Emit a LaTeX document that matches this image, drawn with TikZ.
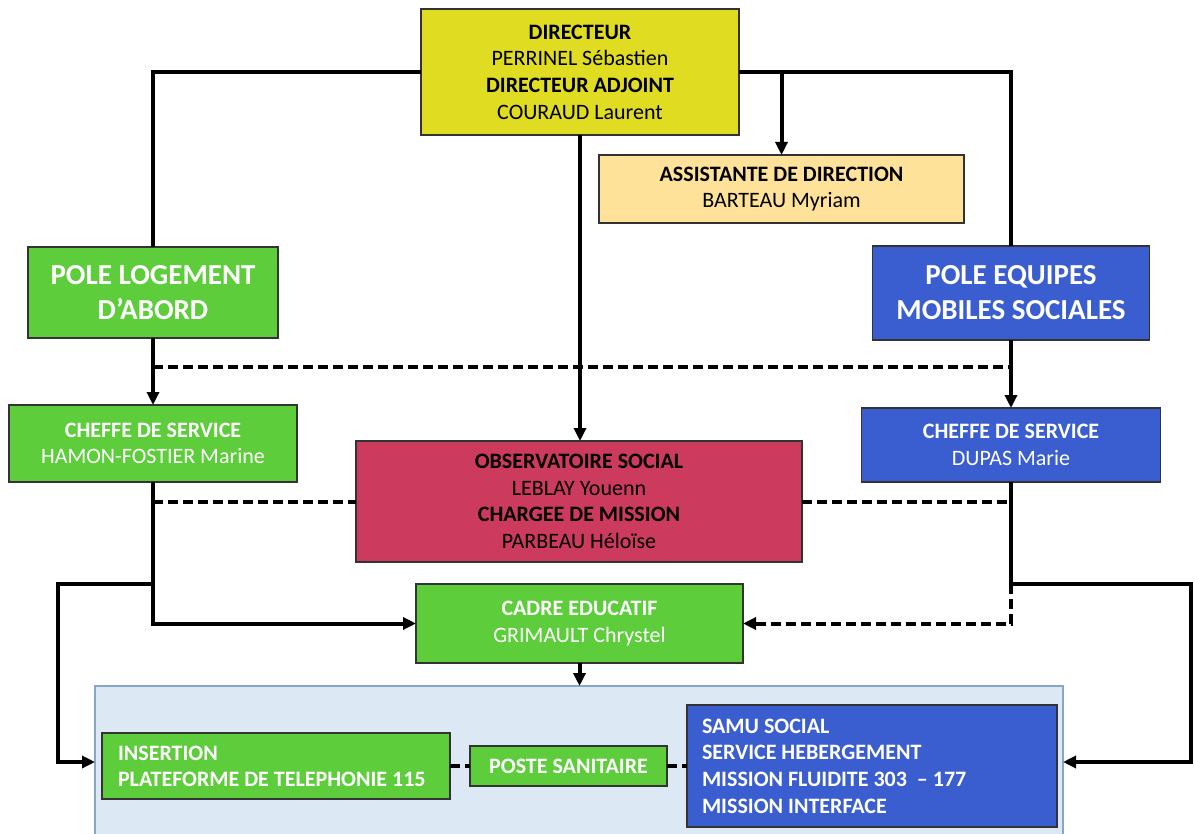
\documentclass[tikz,border=0pt]{standalone}
\usepackage{fontspec}
\setmainfont{Carlito}
\usetikzlibrary{arrows.meta,calc}
\definecolor{dirYellow}{HTML}{E0DC22}
\definecolor{asstCream}{HTML}{FFE29A}
\definecolor{poleGreen}{HTML}{5DCD3B}
\definecolor{poleBlue}{HTML}{3A5ECF}
\definecolor{obsRed}{HTML}{CC3A5D}
\definecolor{panelBlue}{HTML}{DDE8F5}
\definecolor{panelEdge}{HTML}{8AA6C6}

\begin{document}
\begin{tikzpicture}[x=0.5pt, y=-0.5pt,
    box/.style = {draw=black!80, line width=0.7pt, inner sep=0pt, outer sep=0pt,
                  align=center, font=\fontsize{11}{13.3}\selectfont},
    polebox/.style = {box, text=white, font=\fontsize{14.5}{17.5}\selectfont\bfseries},
    listbox/.style = {box, text=white, align=flush left, font=\fontsize{11}{13}\selectfont\bfseries},
    link/.style = {line width=2pt},
    dashlink/.style = {link, dash pattern=on 5pt off 2.5pt},
    tip/.style = {-{Stealth[inset=0pt,length=6.5pt,width=6pt]}}
  ]
  \useasboundingbox (0,0) rectangle (1194,834);

  % direction
  \node[box, fill=dirYellow, minimum width=159pt, minimum height=63pt] (dir) at (580,72)
    {\textbf{DIRECTEUR}\\PERRINEL Sébastien\\\textbf{DIRECTEUR ADJOINT}\\COURAUD Laurent};
  \node[box, fill=asstCream, minimum width=182.5pt, minimum height=34pt] (asst) at (781.5,189)
    {\textbf{ASSISTANTE DE DIRECTION}\\BARTEAU Myriam};

  % poles
  \node[polebox, fill=poleGreen, minimum width=125pt, minimum height=45.5pt] (pl) at (153,292.5)
    {POLE LOGEMENT\\D’ABORD};
  \node[polebox, fill=poleBlue, minimum width=138.5pt, minimum height=47pt] (pe) at (1011,293)
    {POLE EQUIPES\\MOBILES SOCIALES};
  \node[box, fill=poleGreen, text=white, minimum width=144pt, minimum height=38.5pt] (cl) at (153,443.5)
    {\textbf{CHEFFE DE SERVICE}\\HAMON-FOSTIER Marine};
  \node[box, fill=poleBlue, text=white, minimum width=149.5pt, minimum height=37pt] (cr) at (1011,445)
    {\textbf{CHEFFE DE SERVICE}\\DUPAS Marie};
  \node[box, fill=obsRed, minimum width=223pt, minimum height=60.5pt] (obs) at (579,501.5)
    {\textbf{OBSERVATOIRE SOCIAL}\\LEBLAY Youenn\\\textbf{CHARGEE DE MISSION}\\PARBEAU Héloïse};
  \node[box, fill=poleGreen, text=white, minimum width=163.5pt, minimum height=39.5pt] (cad) at (579.5,623.5)
    {\textbf{CADRE EDUCATIF}\\GRIMAULT Chrystel};

  % services
  \node[draw=panelEdge, fill=panelBlue, line width=0.8pt, inner sep=0pt, outer sep=0pt,
        minimum width=484pt, minimum height=76pt] (panel) at (579,762) {};
  \node[listbox, fill=poleGreen, text width=158pt, inner xsep=8pt, minimum height=33pt] (ins) at (276,766)
    {INSERTION\\PLATEFORME DE TELEPHONIE 115};
  \node[box, fill=poleGreen, text=white, font=\fontsize{11}{13}\selectfont\bfseries,
        minimum width=98.5pt, minimum height=20pt] (ps) at (568.5,766) {POSTE SANITAIRE};
  \node[listbox, fill=poleBlue, text width=170pt, inner xsep=7.5pt, minimum height=61pt,
        font=\fontsize{11}{13.3}\selectfont\bfseries] (samu) at (872,766)
    {SAMU SOCIAL\\SERVICE HEBERGEMENT\\MISSION FLUIDITE 303 \ – 177\\MISSION INTERFACE};

  % liens
  \draw[link] (dir.west) -| (pl.north);
  \draw[link] (dir.east) -| (pe.north);
  \draw[link, tip] (dir.east -| asst.north) -- (asst.north);
  \draw[link, tip] (dir.south) -- (dir.south |- obs.north);
  \draw[link, tip] (pl.south) -- (cl.north);
  \draw[link, tip] (pe.south) -- (cr.north);
  \coordinate (dashL) at ($(pl.south)!.44!(cl.north)$);
  \draw[dashlink] (dashL) -- (dashL -| pe.south);
  \draw[dashlink] (obs.west -| cl.south) -- (obs.west);
  \draw[dashlink] (obs.east) -- (obs.east -| cr.south);
  \draw[link, tip] (cl.south) |- (cad.west);
  \draw[link, tip] (cl.south |- cad.north) -- ++(-95,0) |- (panel.west);
  \draw[link, tip] (cr.south) -- (cr.south |- cad.north) -- ++(180,0) |- (panel.east);
  \draw[dashlink, tip] (cr.south |- cad.north) |- (cad.east);
  \draw[link, tip] (cad.south) -- (cad.south |- panel.north);
  \draw[dashlink] (ins.east) -- (ps.west);
  \draw[dashlink] (ps.east) -- (samu.west);
\end{tikzpicture}
\end{document}
